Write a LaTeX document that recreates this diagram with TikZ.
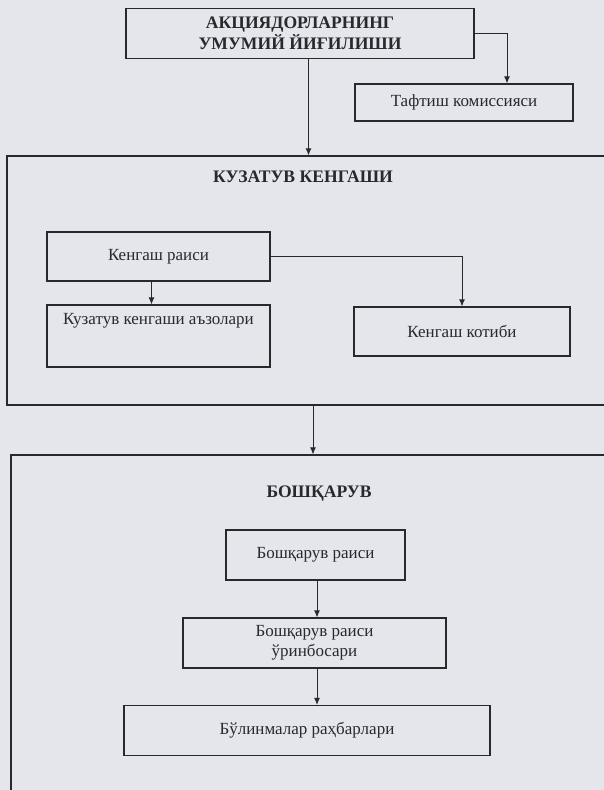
\documentclass[tikz,border=0pt]{standalone}
\usepackage{fontspec}
\setmainfont{Liberation Serif}
\usetikzlibrary{arrows.meta,calc}
\definecolor{paper}{RGB}{228,230,236}
\definecolor{ink}{RGB}{40,40,45}
\begin{document}
\begin{tikzpicture}[x=1pt,y=-1pt,
  box/.style={draw=ink,line width=1.2pt,fill=paper,inner sep=2pt,align=center,
    font=\fontsize{17}{20}\selectfont,text=ink},
  frame/.style={draw=ink,line width=1.2pt},
  ttl/.style={font=\fontsize{17.6}{20}\selectfont\bfseries,text=ink,align=center},
  arr/.style={draw=ink,line width=0.9pt,-{Latex[length=7pt,width=6pt]}}]
\fill[paper] (0,0) rectangle (604,790);
\useasboundingbox (0,0) rectangle (604,790);
\clip (0,0) rectangle (604,790);
% top
\node[box,minimum width=348pt,minimum height=50pt,font=\fontsize{17.6}{20.5}\selectfont\bfseries] (top) at (300,33.5) {АКЦИЯДОРЛАРНИНГ\\УМУМИЙ ЙИҒИЛИШИ};
\node[box,minimum width=218pt,minimum height=37pt] (taf) at (464,102.5) {Тафтиш комиссияси};
% Kuzatuv container
\node[frame,minimum width=603pt,minimum height=249pt,inner sep=0pt] (kuz) at (308.5,280.5) {};
\node[ttl] (kuzt) at (303,177) {КУЗАТУВ КЕНГАШИ};
\node[box,minimum width=223pt,minimum height=49pt] (kr) at (158.5,256.5) {Кенгаш раиси};
\node[box,minimum width=223pt,minimum height=62pt] (ka) at (158.5,336) {};
\node[text=ink,font=\fontsize{17}{20}\selectfont] (kat) at (158.5,321) {Кузатув кенгаши аъзолари};
\node[box,minimum width=216pt,minimum height=49pt] (kk) at (462,331.5) {Кенгаш котиби};
% Boshqaruv container
\node[frame,minimum width=604pt,minimum height=400pt,inner sep=0pt] (bosh) at (313,655) {};
\node[ttl] (bt) at (319,494) {БОШҚАРУВ};
\node[box,minimum width=179pt,minimum height=50pt] (br) at (315.5,555) {Бошқарув раиси};
\node[box,minimum width=263pt,minimum height=50pt] (bo) at (314.5,643) {Бошқарув раиси\\ўринбосари};
\node[box,minimum width=366pt,minimum height=50pt] (bb) at (307,730.5) {Бўлинмалар раҳбарлари};
% connectors
\draw[arr] (top.east) -| ([xshift=43pt]taf.north);
\draw[arr] (kuz.north |- top.south) -- (kuz.north);
\draw[arr] ([xshift=-7pt]kr.south) -- ([xshift=-7pt]ka.north);
\draw[arr] (kr.east) -| (kk.north);
\draw[arr] (bosh.north |- kuz.south) -- (bosh.north);
\draw[arr] ([xshift=1.5pt]br.south) -- ([xshift=1.5pt]br.south |- bo.north);
\draw[arr] ([xshift=1.5pt]br.south |- bo.south) -- ([xshift=1.5pt]br.south |- bb.north);
\end{tikzpicture}
\end{document}
